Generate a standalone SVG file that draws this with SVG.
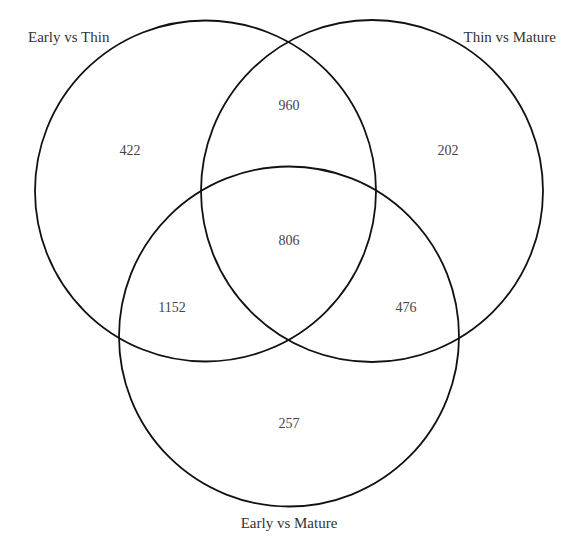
<svg xmlns="http://www.w3.org/2000/svg" width="567" height="536" viewBox="0 0 567 536">
<style>
.c{fill:none;stroke:#111;stroke-width:1.8}
.t{font-family:"Liberation Serif","Times New Roman",serif;font-size:15px;fill:#333}
.n{font-family:"Liberation Serif","Times New Roman",serif;font-size:14px;fill:#444;text-anchor:middle}
</style>
<rect width="567" height="536" fill="#fff"/>
<g id="set-early-thin"><circle class="c" cx="205.5" cy="191" r="170.5"/><text class="t" x="28" y="42">Early vs Thin</text></g>
<g id="set-thin-mature"><circle class="c" cx="372" cy="191" r="171"/><text class="t" x="556" y="42" text-anchor="end">Thin vs Mature</text></g>
<g id="set-early-mature"><circle class="c" cx="289" cy="336.5" r="170"/><text class="t" x="289" y="528" text-anchor="middle">Early vs Mature</text></g>
<g id="counts">
<text class="n" x="130" y="155">422</text>
<text class="n" x="289" y="110">960</text>
<text class="n" x="448" y="155">202</text>
<text class="n" x="289" y="245">806</text>
<text class="n" x="172" y="312">1152</text>
<text class="n" x="406" y="312">476</text>
<text class="n" x="289" y="428">257</text>
</g>
<g id="connectors"/>
</svg>
